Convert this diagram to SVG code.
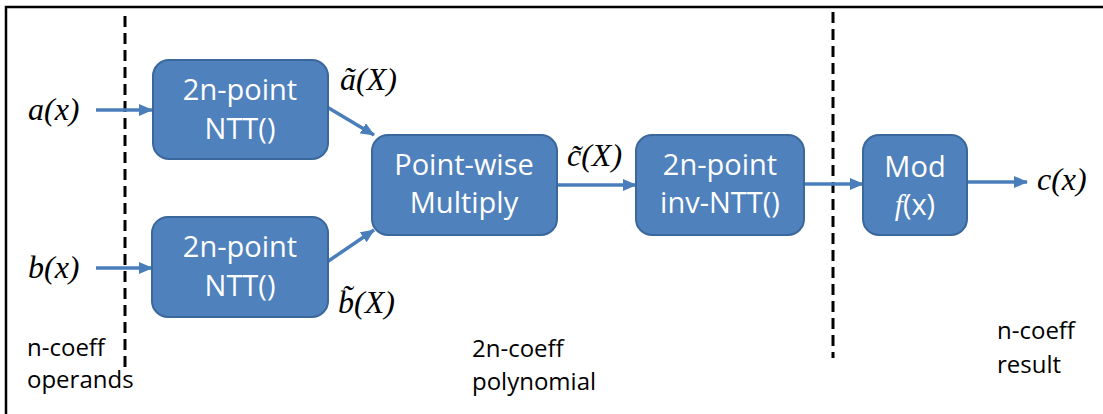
<svg xmlns="http://www.w3.org/2000/svg" width="1103" height="414" viewBox="0 0 1103 414">
<style>
.box{fill:#4f81bd;stroke:#3a679c;stroke-width:2}
.bt{font-family:"Open Sans",sans-serif;font-size:29px;fill:#fff;text-anchor:middle}
.math{font-family:"Liberation Serif",serif;font-style:italic;font-size:32px;fill:#000}
.lbl{font-family:"Open Sans",sans-serif;font-size:24px;fill:#000}
.arr{stroke:#4a7ebb;stroke-width:3.5;fill:none;marker-end:url(#ah)}
.dash{stroke:#000;stroke-width:3;stroke-dasharray:11,6;fill:none}
</style>
<defs>
<marker id="ah" markerUnits="userSpaceOnUse" markerWidth="14" markerHeight="12" refX="13" refY="6" orient="auto">
<path d="M0,0 L14,6 L0,12 Z" fill="#4a7ebb"/>
</marker>
</defs>
<rect width="1103" height="414" fill="#fff"/>
<g id="frame">
<path d="M6,414 V7 H1103" stroke="#000" stroke-width="2.5" fill="none"/>
</g>
<g id="dividers">
<line class="dash" x1="125" y1="16" x2="125" y2="368"/>
<line class="dash" x1="833" y1="12" x2="833" y2="358"/>
</g>
<g id="connectors">
<line class="arr" x1="96" y1="110" x2="152" y2="110"/>
<line class="arr" x1="96" y1="268" x2="152" y2="268"/>
<line class="arr" x1="327" y1="107" x2="374" y2="135"/>
<line class="arr" x1="327" y1="262" x2="374" y2="230"/>
<line class="arr" x1="557" y1="185" x2="636" y2="185"/>
<line class="arr" x1="804" y1="184" x2="863" y2="184"/>
<line class="arr" x1="967" y1="182" x2="1027" y2="182"/>
</g>
<g id="ntt-a">
<rect class="box" x="153" y="60" width="175" height="99" rx="16"/>
<text class="bt" x="240" y="100">2n-point</text>
<text class="bt" x="240" y="139">NTT()</text>
</g>
<g id="ntt-b">
<rect class="box" x="152" y="217" width="176" height="100" rx="16"/>
<text class="bt" x="240" y="257">2n-point</text>
<text class="bt" x="240" y="296">NTT()</text>
</g>
<g id="pointwise">
<rect class="box" x="372" y="135" width="185" height="100" rx="16"/>
<text class="bt" x="464" y="175">Point-wise</text>
<text class="bt" x="464" y="213">Multiply</text>
</g>
<g id="inv-ntt">
<rect class="box" x="636" y="135" width="168" height="100" rx="16"/>
<text class="bt" x="720" y="175">2n-point</text>
<text class="bt" x="720" y="213">inv-NTT()</text>
</g>
<g id="mod">
<rect class="box" x="863" y="135" width="104" height="100" rx="16"/>
<text class="bt" x="915" y="177">Mod</text>
<text class="bt" x="915" y="215"><tspan font-style="italic" font-family="Liberation Serif, serif">f</tspan>(x)</text>
</g>
<g id="labels">
<text class="math" x="28" y="120">a(x)</text>
<text class="math" x="28" y="278">b(x)</text>
<text class="math" x="1037" y="190">c(x)</text>
<text class="math" x="340" y="90">ã(X)</text>
<text class="math" x="338" y="313">b̃(X)</text>
<text class="math" x="567" y="166">c̃(X)</text>
<text class="lbl" x="27" y="356">n-coeff</text>
<text class="lbl" x="27" y="388">operands</text>
<text class="lbl" x="472" y="357">2n-coeff</text>
<text class="lbl" x="472" y="390">polynomial</text>
<text class="lbl" x="997" y="339">n-coeff</text>
<text class="lbl" x="997" y="373">result</text>
</g>
</svg>
